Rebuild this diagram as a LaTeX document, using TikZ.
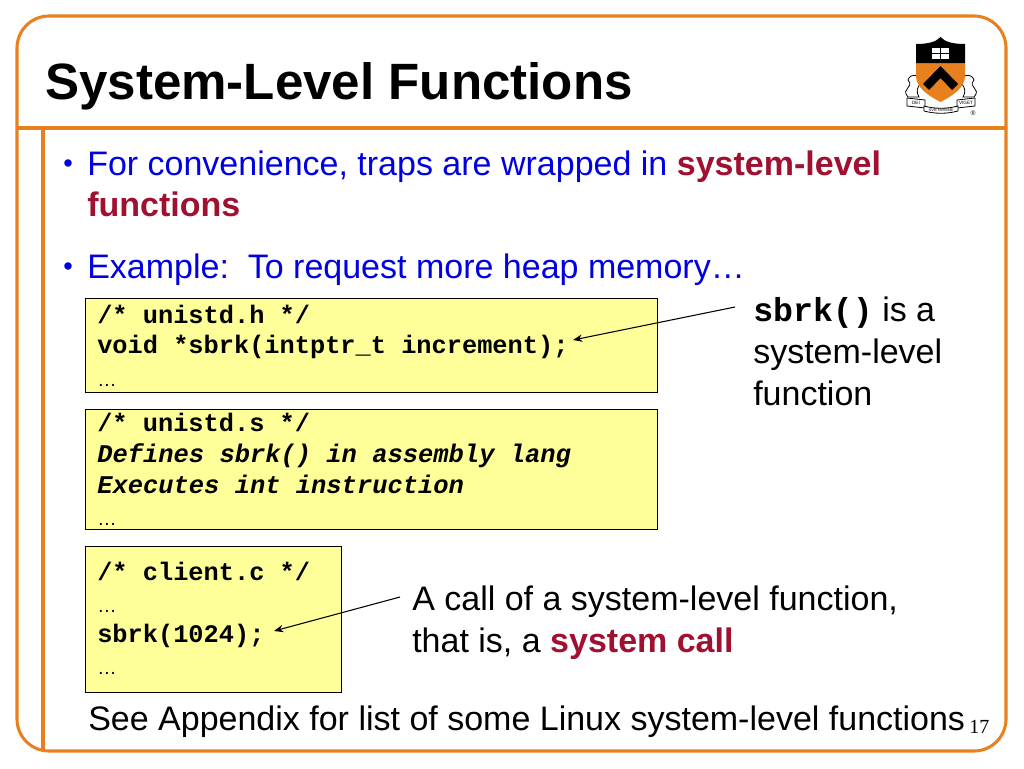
\documentclass[tikz,border=0pt]{standalone}
\usepackage{fontspec}
\setmainfont{Liberation Sans}
\setmonofont{Liberation Mono}
\newfontfamily\pagefont{Liberation Serif}
\usetikzlibrary{arrows.meta,positioning}
\definecolor{frameorange}{RGB}{232,128,32}
\definecolor{bodyblue}{RGB}{0,0,224}
\definecolor{keyred}{RGB}{160,16,48}
\definecolor{codeyellow}{RGB}{255,255,153}
\newcommand{\key}[1]{\textcolor{keyred}{\textbf{#1}}}
\tikzset{
  frameline/.style={draw=frameorange,line width=2.3pt},
  codebox/.style={draw=black,fill=codeyellow,line width=0.9pt,inner sep=0pt,anchor=north west},
  codeline/.style={anchor=base west,inner sep=0pt,font=\ttfamily\bfseries\fontsize{19}{19}\selectfont},
  codeital/.style={codeline,font=\ttfamily\bfseries\itshape\fontsize{19.1}{19.1}\selectfont},
  codedots/.style={anchor=base west,inner sep=0pt,font=\fontsize{14.5}{14.5}\selectfont},
  bodyline/.style={anchor=base west,inner sep=0pt,font=\fontsize{25.5}{25.5}\selectfont},
  bulletdot/.style={bodyline,text=bodyblue,font=\fontsize{20.4}{20.4}\selectfont},
  crest/.style={draw=black,fill=white,line width=0.6pt},
  pointer/.style={-{Stealth[length=7pt,width=5.5pt]},black,line width=0.8pt}
}
\begin{document}
\begin{tikzpicture}[x=0.75pt,y=-0.75pt]
  \useasboundingbox (0,0) rectangle (1024,768);
  % frame
  \draw[frameline,rounded corners=24pt] (17,16) rectangle (1006,751);
  \draw[frameline] (17,128) -- (1006,128);
  \draw[frameline] (43,128) -- (43,751);
  % title
  \node[anchor=base west,inner sep=0pt,font=\bfseries\fontsize{38.3}{38.3}\selectfont] (title) at (45,99) {System-Level Functions};
  % crest
  \draw[crest] (908,97) .. controls (900,88) and (915,88) .. (908,80) .. controls (910,72) and (924,75) .. (920,84) .. controls (917,88) and (916,92) .. (919,97) -- cycle;
  \draw[crest] (974,97) .. controls (982,88) and (967,88) .. (974,80) .. controls (972,72) and (958,75) .. (962,84) .. controls (965,88) and (966,92) .. (963,97) -- cycle;
  \draw[crest] (907,98) -- (925,100) -- (925,108) -- (907,106) -- cycle;
  \draw[crest] (957,100) -- (975,98) -- (975,106) -- (957,108) -- cycle;
  \draw[crest] (924,106) .. controls (935,109) and (947,109) .. (958,106) -- (958,111) .. controls (947,114) and (935,114) .. (924,111) -- cycle;
  \fill[frameorange] (916,62) -- (965,62) -- (965,76) .. controls (965,88) and (952,96) .. (940.5,102) .. controls (929,96) and (916,88) .. (916,76) -- cycle;
  \fill[black] (916,44) .. controls (928,44) and (936,42) .. (940.5,37) .. controls (945,42) and (953,44) .. (965,44) -- (965,63) -- (916,63) -- cycle;
  \fill[black] (940.5,66) -- (958,84) -- (952,90) -- (940.5,78) -- (929,90) -- (923,84) -- cycle;
  \fill[white] (932,48) rectangle (949,59);
  \fill[black] (940,48) rectangle (941,59);
  \fill[black] (932,53) rectangle (949,54);
  \node[font=\fontsize{3.5}{3.5}\selectfont,inner sep=0pt] (dei) at (916,103) {DEI};
  \node[font=\fontsize{3.5}{3.5}\selectfont,inner sep=0pt] (viget) at (966,103) {VIGET};
  \node[font=\fontsize{3}{3}\selectfont,inner sep=0pt] (nvmine) at (941,110) {SVB NVMINE};
  \node[font=\fontsize{5}{5}\selectfont,inner sep=0pt] (reg) at (973,113) {®};
  % bullets
  \node[bulletdot] (bullet1) at (63,172.5) {•};
  \node[bodyline,text=bodyblue] (first1) at (87,175) {For convenience, traps are wrapped in \key{system-level}};
  \node[bodyline,text=bodyblue] (first2) at (87,216) {\key{functions}};
  \node[bulletdot] (bullet2) at (63,275.5) {•};
  \node[bodyline,text=bodyblue] (second) at (87,278) {Example:\ \ To request more heap memory…};
  % boxes
  \node[codebox,minimum width=429pt,minimum height=70.5pt] (unistdh) at (85,298) {};
  \node[codeline] (h1) at (97,323) {/* unistd.h */};
  \node[codeline] (h2) at (97,353) {void *sbrk(intptr\_t increment);};
  \node[codedots] (h3) at (97,386) {…};
  \node[codebox,minimum width=429pt,minimum height=90pt] (unistds) at (85,409) {};
  \node[codeline] (s1) at (97,431) {/* unistd.s */};
  \node[codeital] (s2) at (97,462) {Defines sbrk() in assembly lang};
  \node[codeital] (s3) at (97,493) {Executes int instruction};
  \node[codedots] (s4) at (97,525) {…};
  \node[codebox,minimum width=192pt,minimum height=109.5pt] (client) at (85,546) {};
  \node[codeline] (c1) at (97,580) {/* client.c */};
  \node[codedots] (c2) at (97,612) {…};
  \node[codeline] (c3) at (97,642) {sbrk(1024);};
  \node[codedots] (c4) at (97,674) {…};
  % side notes
  \node[bodyline] (note1) at (753,321) {{\ttfamily\bfseries\fontsize{24.9}{24.9}\selectfont sbrk()} is a};
  \node[bodyline] (note2) at (753,363) {system-level};
  \node[bodyline] (note3) at (753,405) {function};
  \node[bodyline] (call1) at (412,610) {A call of a system-level function,};
  \node[bodyline] (call2) at (412,652) {that is, a \key{system call}};
  \node[bodyline] (appendix) at (88,730) {See Appendix for list of some Linux system-level functions};
  \node[anchor=base west,inner sep=0pt,font=\pagefont\fontsize{15}{15}\selectfont] (pagenum) at (969,733) {17};
  % arrows
  \coordinate (tail1) at (735,307);
  \coordinate (tip1) at (573,340);
  \coordinate (tail2) at (400,597);
  \coordinate (tip2) at (274,631);
  \draw[pointer] (tail1) -- (tip1);
  \draw[pointer] (tail2) -- (tip2);
\end{tikzpicture}
\end{document}
